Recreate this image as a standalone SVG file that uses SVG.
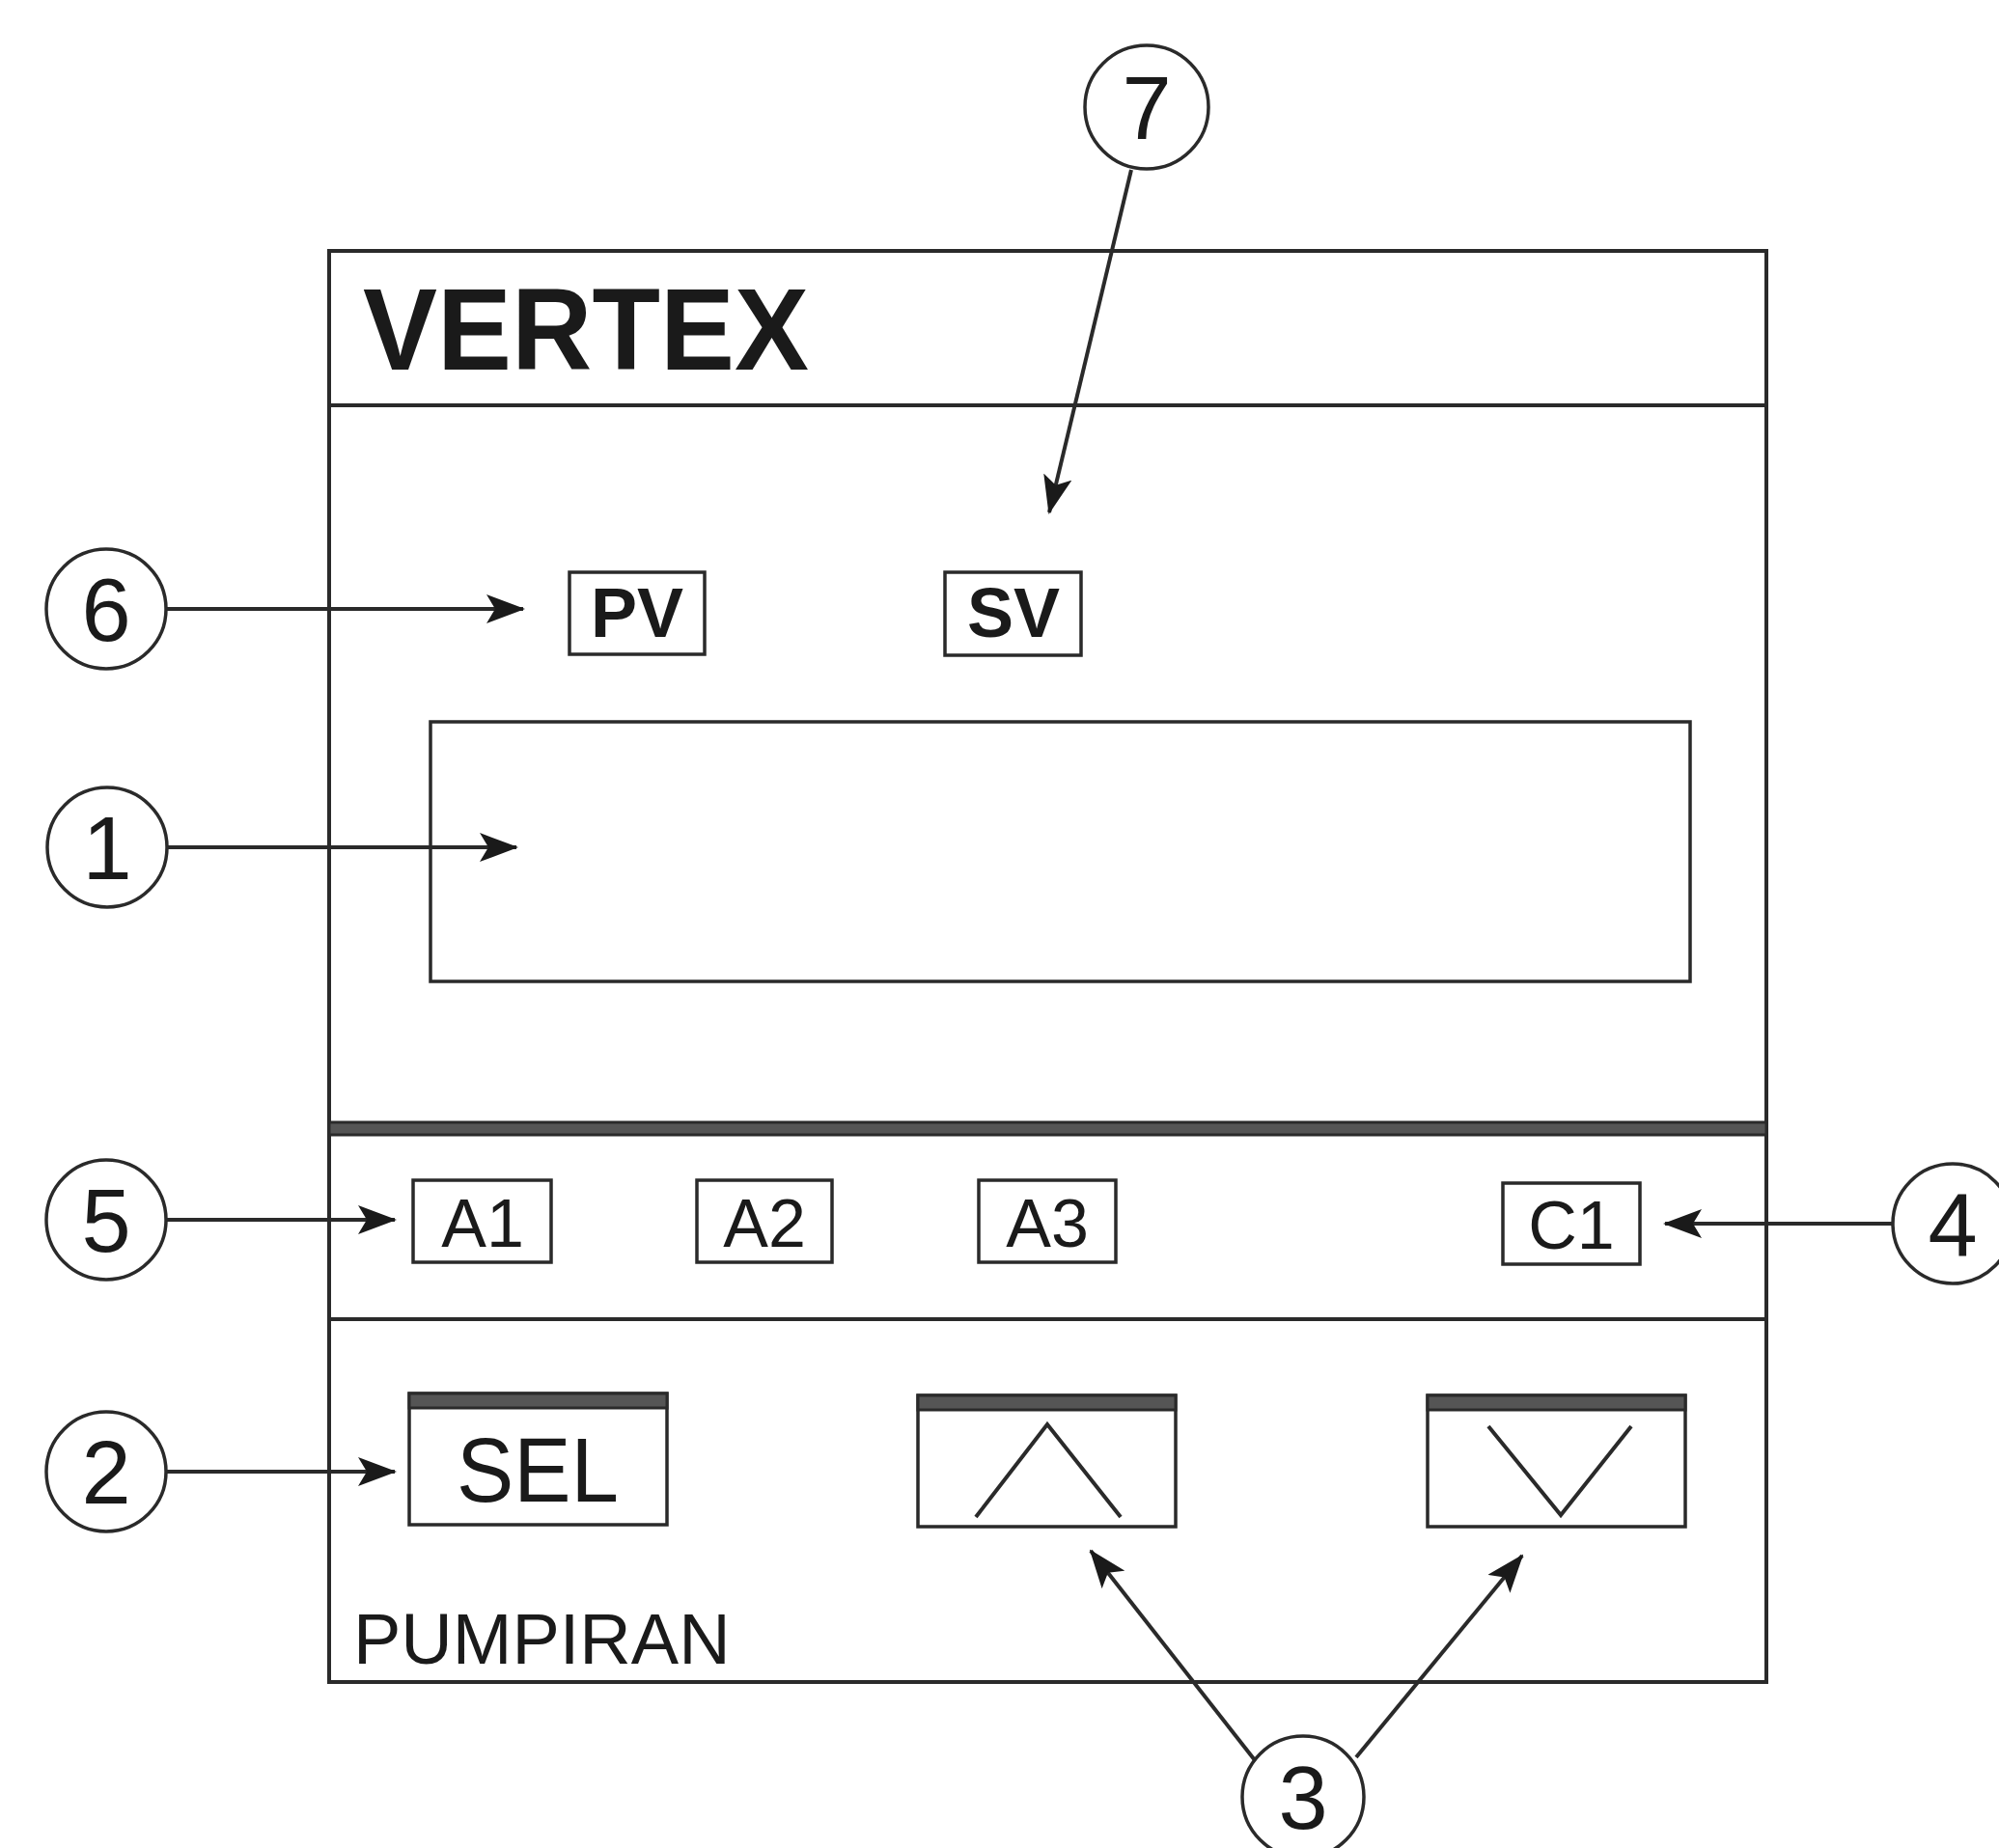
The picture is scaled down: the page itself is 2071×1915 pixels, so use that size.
<svg xmlns="http://www.w3.org/2000/svg" width="2071" height="1915" viewBox="0 0 2071 1915">
<style>
.ln{fill:none;stroke:#2a2a2a;stroke-width:4}
.bx{fill:none;stroke:#2a2a2a;stroke-width:3.5}
.cir{fill:#fff;stroke:#2a2a2a;stroke-width:3.5}
.num{font-family:"Liberation Sans",Arial,sans-serif;font-size:92px;fill:#1a1a1a;text-anchor:middle}
.lbl{font-family:"Liberation Sans",Arial,sans-serif;font-size:70px;fill:#1a1a1a;text-anchor:middle}
.sel{font-family:"Liberation Sans",Arial,sans-serif;font-size:95px;fill:#1a1a1a;text-anchor:middle}
.blbl{font-family:"Liberation Sans",Arial,sans-serif;font-size:72px;font-weight:bold;fill:#1a1a1a;text-anchor:middle}
.bar{fill:#555;stroke:#2a2a2a;stroke-width:3}
.arr{fill:none;stroke:#2a2a2a;stroke-width:4;marker-end:url(#ah)}
</style>
<defs>
<marker id="ah" markerUnits="userSpaceOnUse" markerWidth="40" markerHeight="30" refX="38" refY="15" orient="auto">
<path d="M0,0 L40,15 L0,30 L9,15 z" fill="#1a1a1a"/>
</marker>
</defs>
<rect width="2071" height="1915" fill="#fff"/>
<g id="panel">
<rect x="341" y="260" width="1489" height="1483" class="ln"/>
<line x1="341" y1="420" x2="1830" y2="420" class="ln"/>
<rect x="341" y="1163" width="1489" height="13" class="bar"/>
<line x1="341" y1="1367" x2="1830" y2="1367" class="ln"/>
<text x="376" y="383" font-family="'Liberation Sans',Arial,sans-serif" font-size="120" font-weight="bold" fill="#1a1a1a" textLength="462" lengthAdjust="spacingAndGlyphs">VERTEX</text>
<text x="366" y="1724" font-family="'Liberation Sans',Arial,sans-serif" font-size="74" fill="#1a1a1a">PUMPIRAN</text>
</g>
<g id="display"><rect x="446" y="748" width="1305" height="269" class="bx"/></g>
<g id="pv"><rect x="590" y="593" width="140" height="85" class="bx"/><text x="660" y="660" class="blbl">PV</text></g>
<g id="sv"><rect x="979" y="593" width="141" height="86" class="bx"/><text x="1050" y="660" class="blbl">SV</text></g>
<g id="a1"><rect x="428" y="1223" width="143" height="85" class="bx"/><text x="500" y="1292" class="lbl">A1</text></g>
<g id="a2"><rect x="722" y="1223" width="140" height="85" class="bx"/><text x="792" y="1292" class="lbl">A2</text></g>
<g id="a3"><rect x="1014" y="1223" width="142" height="85" class="bx"/><text x="1085" y="1292" class="lbl">A3</text></g>
<g id="c1"><rect x="1557" y="1226" width="142" height="84" class="bx"/><text x="1628" y="1294" class="lbl">C1</text></g>
<g id="sel">
<rect x="424" y="1444" width="267" height="136" class="bx"/>
<rect x="424" y="1444" width="267" height="15" class="bar"/>
<text x="557" y="1556" class="sel" textLength="168" lengthAdjust="spacingAndGlyphs">SEL</text>
</g>
<g id="up">
<rect x="951" y="1446" width="267" height="136" class="bx"/>
<rect x="951" y="1446" width="267" height="15" class="bar"/>
<polyline points="1011,1572 1085,1476 1161,1572" class="ln"/>
</g>
<g id="down">
<rect x="1479" y="1446" width="267" height="136" class="bx"/>
<rect x="1479" y="1446" width="267" height="15" class="bar"/>
<polyline points="1542,1478 1617,1570 1690,1478" class="ln"/>
</g>
<g id="callout7"><circle cx="1188" cy="111" r="64" class="cir"/><text x="1188" y="144" class="num">7</text></g>
<g id="callout6"><circle cx="110" cy="631" r="62" class="cir"/><text x="110" y="664" class="num">6</text></g>
<g id="callout1"><circle cx="111" cy="878" r="62" class="cir"/><text x="111" y="911" class="num">1</text></g>
<g id="callout5"><circle cx="110" cy="1264" r="62" class="cir"/><text x="110" y="1297" class="num">5</text></g>
<g id="callout4"><circle cx="2023" cy="1268" r="62" class="cir"/><text x="2023" y="1301" class="num">4</text></g>
<g id="callout2"><circle cx="110" cy="1525" r="62" class="cir"/><text x="110" y="1558" class="num">2</text></g>
<g id="callout3"><circle cx="1350" cy="1862" r="63" class="cir"/><text x="1350" y="1895" class="num">3</text></g>
<g id="connectors">
<line x1="1172" y1="176" x2="1087" y2="531" class="arr"/>
<line x1="172" y1="631" x2="542" y2="631" class="arr"/>
<line x1="173" y1="878" x2="535" y2="878" class="arr"/>
<line x1="172" y1="1264" x2="409" y2="1264" class="arr"/>
<line x1="1961" y1="1268" x2="1725" y2="1268" class="arr"/>
<line x1="172" y1="1525" x2="409" y2="1525" class="arr"/>
<line x1="1300" y1="1824" x2="1130" y2="1607" class="arr"/>
<line x1="1405" y1="1821" x2="1577" y2="1612" class="arr"/>
</g>
</svg>
